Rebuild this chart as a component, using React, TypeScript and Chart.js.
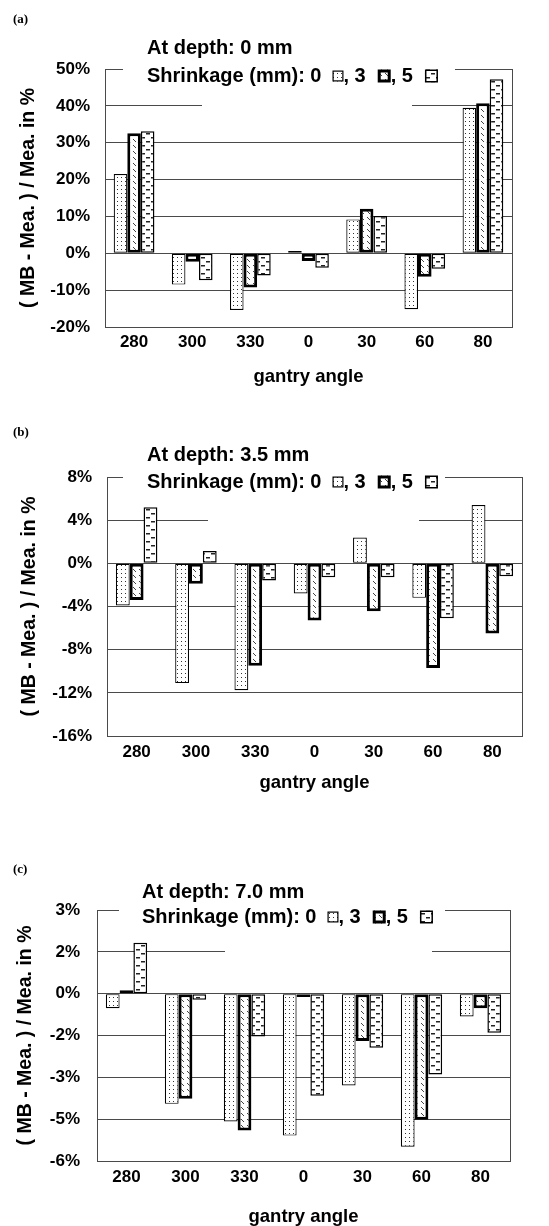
import React, { useEffect, useRef } from "react";
import { Chart, registerables } from "chart.js";

Chart.register(...registerables);

// ---------- data ----------
const categories = ["280", "300", "330", "0", "30", "60", "80"];
const shrinkageNames = ["0", "3", "5"];
const legendParts = ["Shrinkage (mm): 0", ", 3", ", 5"];

// (a) depth 0 mm
const depth0Shrink0 = [21.5, -8.5, -15.4, 0.6, 9.2, -15.2, 39.5];
const depth0Shrink3 = [32.6, -2.3, -9.3, -2.1, 12.1, -6.4, 40.7];
const depth0Shrink5 = [33.1, -7.3, -6.0, -3.9, 10.1, -4.2, 47.2];
const ticksA = [-20, -10, 0, 10, 20, 30, 40, 50];
const tickLabelsA = ["-20%", "-10%", "0%", "10%", "20%", "30%", "40%", "50%"];

// (b) depth 3.5 mm
const depth35Shrink0 = [-3.9, -11.1, -11.75, -2.8, 2.4, -3.2, 5.4];
const depth35Shrink3 = [-3.4, -1.9, -9.5, -5.3, -4.45, -9.7, -6.5];
const depth35Shrink5 = [5.2, 1.15, -1.6, -1.3, -1.3, -5.1, -1.2];
const ticksB = [-16, -12, -8, -4, 0, 4, 8];
const tickLabelsB = ["-16%", "-12%", "-8%", "-4%", "0%", "4%", "8%"];

// (c) depth 7.0 mm
const depth70Shrink0 = [-0.52, -3.95, -4.58, -5.09, -3.29, -5.49, -0.82];
const depth70Shrink3 = [0.12, -3.77, -4.91, -0.12, -1.7, -4.52, -0.52];
const depth70Shrink5 = [1.83, -0.22, -1.54, -3.66, -1.94, -2.9, -1.4];
const ticksC = [-6, -4.5, -3, -1.5, 0, 1.5, 3];
const tickLabelsC = ["-6%", "-5%", "-3%", "-2%", "0%", "2%", "3%"];

// ---------- styling ----------
const FAMILY = "'Liberation Sans', Arial, sans-serif";
const GRID = "#4a4a4a";
const BORDER_W = [1.2, 3, 1.5];

function makePattern(ctx: CanvasRenderingContext2D, kind: number): CanvasPattern | string {
  const c = document.createElement("canvas");
  const p = c.getContext("2d")!;
  if (kind === 0) {
    c.width = 4; c.height = 4;
    p.fillStyle = "#fff"; p.fillRect(0, 0, 4, 4);
    p.fillStyle = "#333";
    p.fillRect(1, 1, 1, 1);
  } else if (kind === 1) {
    c.width = 6; c.height = 6;
    p.fillStyle = "#fff"; p.fillRect(0, 0, 6, 6);
    p.strokeStyle = "#444"; p.lineWidth = 1;
    p.beginPath(); p.moveTo(1, 1); p.lineTo(4, 4); p.stroke();
  } else {
    c.width = 10; c.height = 8;
    p.fillStyle = "#fff"; p.fillRect(0, 0, 10, 8);
    p.fillStyle = "#222";
    p.fillRect(1, 1, 4, 1.5);
    p.fillRect(6, 5, 4, 1.5);
  }
  return ctx.createPattern(c, "repeat") || "#fff";
}

type Spec = {
  tag: string;
  title: string;
  series: number[][];
  ticks: number[];
  tickLabels: string[];
  top: number;
  h: number;
  padTop: number;
  padRight: number;
  yAxisW: number;
  xAxisH: number;
  xTickPad: number;
  xTitlePad: number;
  yTitlePad: number;
  yTickPad: number;
  tagY: number;
  titleY: number;
  legendY: number;
  textX: number;
  masks: { v: number; x0: number; x1: number }[];
};

const specs: Spec[] = [
  {
    tag: "(a)", title: "At depth: 0 mm",
    series: [depth0Shrink0, depth0Shrink3, depth0Shrink5],
    ticks: ticksA, tickLabels: tickLabelsA,
    top: 0, h: 400, padTop: 69, padRight: 37, yAxisW: 105, xAxisH: 73,
    xTickPad: 5.5, xTitlePad: 14, yTitlePad: 18.5, yTickPad: 15,
    tagY: 20, titleY: 48, legendY: 76, textX: 147,
    masks: [{ v: 50, x0: 123, x1: 455 }, { v: 40, x0: 202, x1: 412 }],
  },
  {
    tag: "(b)", title: "At depth: 3.5 mm",
    series: [depth35Shrink0, depth35Shrink3, depth35Shrink5],
    ticks: ticksB, tickLabels: tickLabelsB,
    top: 400, h: 400, padTop: 77, padRight: 27, yAxisW: 107, xAxisH: 64,
    xTickPad: 6.5, xTitlePad: 8, yTitlePad: 19.5, yTickPad: 15,
    tagY: 33, titleY: 55, legendY: 82, textX: 147,
    masks: [{ v: 8, x0: 123, x1: 445 }, { v: 4, x0: 208, x1: 419 }],
  },
  {
    tag: "(c)", title: "At depth: 7.0 mm",
    series: [depth70Shrink0, depth70Shrink3, depth70Shrink5],
    ticks: ticksC, tickLabels: tickLabelsC,
    top: 800, h: 426, padTop: 110, padRight: 39, yAxisW: 97, xAxisH: 65,
    xTickPad: 6, xTitlePad: 0, yTitlePad: 15.5, yTickPad: 17,
    tagY: 70, titleY: 92, legendY: 117, textX: 142,
    masks: [{ v: 3, x0: 119, x1: 445 }, { v: 1.5, x0: 225, x1: 432 }],
  },
];

function Panel({ spec }: { spec: Spec }) {
  const ref = useRef<HTMLCanvasElement>(null);
  useEffect(() => {
    const canvas = ref.current!;
    const ctx0 = canvas.getContext("2d")!;
    const pats = [0, 1, 2].map((k) => makePattern(ctx0, k));

    const decor = {
      id: "decor",
      beforeDatasetsDraw(chart: any) {
        const { ctx, chartArea: a, scales } = chart;
        ctx.save();
        ctx.strokeStyle = GRID;
        ctx.lineWidth = 1;
        ctx.beginPath();
        ctx.moveTo(Math.round(a.right) + 0.5, a.top);
        ctx.lineTo(Math.round(a.right) + 0.5, a.bottom);
        ctx.stroke();
        ctx.fillStyle = "#fff";
        for (const m of spec.masks) {
          const y = scales.y.getPixelForValue(m.v);
          ctx.fillRect(m.x0, y - 3, m.x1 - m.x0, 6);
        }
        ctx.restore();
      },
      afterDraw(chart: any) {
        const { ctx } = chart;
        ctx.save();
        ctx.fillStyle = "#000";
        ctx.textBaseline = "middle";
        ctx.textAlign = "left";
        ctx.font = "bold 13px 'Liberation Serif', 'Times New Roman', serif";
        ctx.fillText(spec.tag, 13, spec.tagY);
        ctx.font = `bold 20px ${FAMILY}`;
        ctx.fillText(spec.title, spec.textX, spec.titleY);
        let x = spec.textX;
        const y = spec.legendY;
        legendParts.forEach((part, i) => {
          ctx.fillStyle = "#000";
          ctx.fillText(part, x, y);
          x += ctx.measureText(part).width + (i === 0 ? 11 : 12);
          const s = i === 0 ? 11 : 13;
          const bw = BORDER_W[i];
          ctx.fillStyle = pats[i];
          ctx.fillRect(x, y - s / 2, s, s);
          ctx.strokeStyle = "#000";
          ctx.lineWidth = bw;
          ctx.strokeRect(x + bw / 2, y - s / 2 + bw / 2, s - bw, s - bw);
          x += s;
        });
        ctx.restore();
      },
    };

    const chart = new Chart(canvas, {
      type: "bar",
      data: {
        labels: categories,
        datasets: spec.series.map((vals, i) => ({
          label: shrinkageNames[i],
          data: vals,
          backgroundColor: pats[i] as any,
          borderColor: "#000",
          borderWidth: BORDER_W[i],
          borderSkipped: false as any,
          categoryPercentage: 0.7,
          barPercentage: 1,
        })),
      },
      options: {
        responsive: false,
        animation: false,
        devicePixelRatio: 1,
        layout: { padding: { top: spec.padTop, right: spec.padRight, left: 0, bottom: 0 } },
        plugins: {
          legend: { display: false },
          tooltip: { enabled: false },
          title: { display: false },
        },
        scales: {
          x: {
            grid: { display: false, drawTicks: false },
            border: { display: true, color: GRID, width: 1 },
            ticks: {
              color: "#000",
              font: { family: FAMILY, size: 17, weight: "bold" },
              padding: spec.xTickPad,
              maxRotation: 0,
              autoSkip: false,
            },
            title: {
              display: true,
              text: "gantry angle",
              color: "#000",
              font: { family: FAMILY, size: 18.5, weight: "bold", lineHeight: 1 },
              padding: { top: 0, bottom: spec.xTitlePad },
            },
            afterFit: (s: any) => { s.height = spec.xAxisH; },
          },
          y: {
            min: spec.ticks[0],
            max: spec.ticks[spec.ticks.length - 1],
            afterBuildTicks: (s: any) => { s.ticks = spec.ticks.map((v) => ({ value: v })); },
            grid: { color: GRID, lineWidth: 1, drawTicks: false },
            border: { display: true, color: GRID, width: 1 },
            ticks: {
              color: "#000",
              font: { family: FAMILY, size: 17, weight: "bold" },
              padding: spec.yTickPad,
              callback: (v: any) => {
                const idx = spec.ticks.indexOf(Number(v));
                return idx >= 0 ? spec.tickLabels[idx] : "";
              },
            },
            title: {
              display: true,
              text: "( MB - Mea. ) / Mea. in %",
              color: "#000",
              font: { family: FAMILY, size: 19.5, weight: "bold", lineHeight: 1 },
              padding: { top: spec.yTitlePad, bottom: 0 },
            },
            afterFit: (s: any) => { s.width = spec.yAxisW; },
          },
        },
      } as any,
      plugins: [decor],
    });
    return () => chart.destroy();
  }, [spec]);

  return (
    <canvas
      ref={ref}
      width={549}
      height={spec.h}
      style={{ position: "absolute", left: 0, top: spec.top, display: "block" }}
    />
  );
}

export default function App() {
  return (
    <div
      style={{
        position: "fixed",
        left: 0,
        top: 0,
        width: 549,
        height: 1226,
        background: "#fff",
        overflow: "hidden",
      }}
    >
      {specs.map((s) => (
        <Panel key={s.tag} spec={s} />
      ))}
    </div>
  );
}
